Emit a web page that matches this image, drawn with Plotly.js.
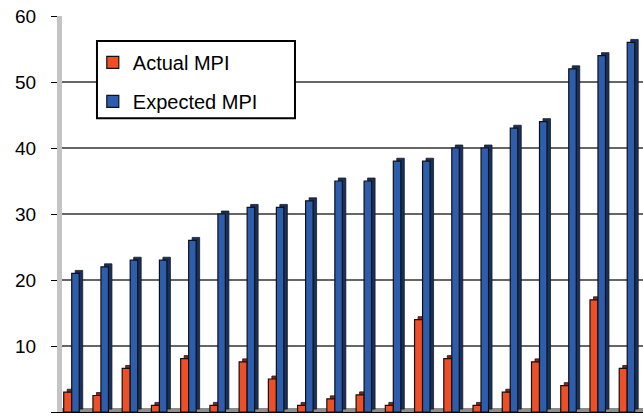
<!DOCTYPE html>
<html><head><meta charset="utf-8">
<script src="https://cdn.plot.ly/plotly-3.0.1.min.js"></script>
<style>html,body{margin:0;padding:0;background:#fff}#chart{width:643px;height:420px}</style>
</head><body><div id="chart"></div>
<script>
const groups = [1,2,3,4,5,6,7,8,9,10,11,12,13,14,15,16,17,18,19,20];
const actualMPI = [3,2.5,6.6,1,8.1,1,7.6,5,1,2,2.6,1,14,8.1,1,3,7.6,4,17,6.6];
const expectedMPI = [21,22,23,23,26,30,31,31,32,35,35,38,38,40,40,43,44,52,54,56];
const seriesNames = ['Actual MPI','Expected MPI'];
const yTicks = [0,10,20,30,40,50,60];

const x = groups.map((g,i)=>i);
const U = 1/29.24; // one pixel in x-units
const depthY = 0.45;
const edge = {color:'#1a1a1a', width:0.8};

const traces = [
  {type:'bar', x:x, y:actualMPI, base:depthY, offset:-4.5*U, width:8*U,
   marker:{color:'#8a2512', line:edge}, showlegend:false, hoverinfo:'skip'},
  {type:'bar', x:x, y:actualMPI, offset:-8*U, width:8*U, name:seriesNames[0], legendgroup:'a',
   marker:{color:'#ef4f26', line:{color:'#111', width:1.2}}},
  {type:'bar', x:x, y:expectedMPI, base:depthY, offset:3.5*U, width:7.5*U,
   marker:{color:'#17305f', line:edge}, showlegend:false, hoverinfo:'skip'},
  {type:'bar', x:x, y:expectedMPI, offset:0, width:7.5*U, name:seriesNames[1], legendgroup:'b',
   marker:{color:'#2d5ead', line:{color:'#111', width:1.2}}}
];

const layout = {
  width:643, height:420,
  margin:{l:62, r:0, t:16, b:8},
  paper_bgcolor:'#fff', plot_bgcolor:'#fff',
  barmode:'overlay',
  font:{family:'Liberation Sans, Arial, sans-serif', color:'#000'},
  xaxis:{range:[-0.332,19.54], showticklabels:false, showgrid:false, zeroline:false,
         showline:true, linecolor:'#000', linewidth:1, ticks:''},
  yaxis:{range:[0,60], tickvals:yTicks, ticktext:yTicks.map(String), tickfont:{size:19},
         ticks:'outside', ticklen:6, tickcolor:'#000', tickwidth:1, ticklabelstandoff:11,
         showline:true, linecolor:'#c4c4c4', linewidth:5,
         showgrid:true, gridcolor:'#666', gridwidth:1.2, zeroline:false},
  legend:{x:0.053, y:0.932, xanchor:'left', yanchor:'top', bgcolor:'rgba(0,0,0,0)',
          borderwidth:0, font:{size:20},
          traceorder:'grouped', tracegroupgap:10},
  shapes:[
    {type:'rect', xref:'paper', x0:0, x1:1, yref:'y', y0:0, y1:0.6,
     fillcolor:'#8c8c8c', line:{width:0}, layer:'below'},
    {type:'rect', xref:'paper', yref:'paper', x0:0.0602, x1:0.401, y0:0.742, y1:0.937,
     fillcolor:'#fff', line:{color:'#000', width:2}, layer:'above'}
  ],
  showlegend:true
};
Plotly.newPlot('chart', traces, layout, {displayModeBar:false, staticPlot:true});
</script></body></html>
